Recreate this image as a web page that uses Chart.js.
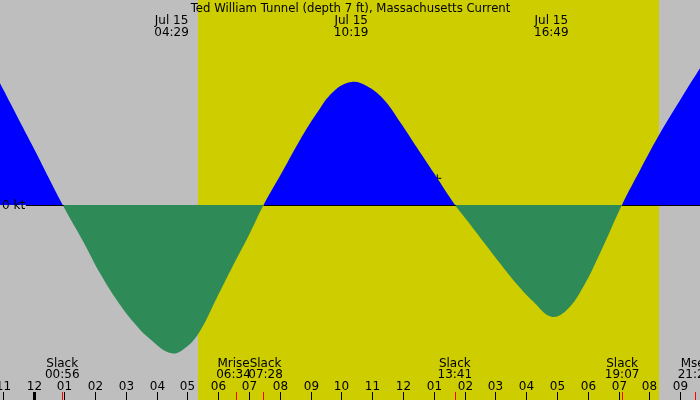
<!DOCTYPE html>
<html>
<head>
<meta charset="utf-8">
<script src="https://cdn.jsdelivr.net/npm/chart.js@4/dist/chart.umd.min.js"></script>
<style>
  html, body { margin: 0; padding: 0; background: #bebebe; }
  #wrap { width: 700px; height: 400px; }
</style>
</head>
<body>
<div id="wrap"><canvas id="c" width="700" height="400"></canvas></div>
<script>
// ---- data ----
const titleText = 'Ted William Tunnel (depth 7 ft), Massachusetts Current';
const dateLabel = 'Jul 15';

// current speed samples: time in hours after midnight Jul 15, speed in knots (+ flood, - ebb)
const flowHours = [-1.088, -0.058, 0.95, 1.617, 2.16, 2.702, 3.241, 3.784, 4.488, 4.976, 5.408,
  5.95, 6.489, 7.031, 7.47, 8.113, 8.655, 9.198, 9.737, 10.32, 10.822, 11.361, 11.904, 12.446,
  13.115, 13.69, 14.07, 14.61, 15.15, 15.69, 16.23, 16.82, 17.317, 17.856, 18.399, 19.11,
  19.70, 20.315, 21.10, 21.646];
const flowKnots = [1.217, 0.607, 0, -0.367, -0.683, -0.95, -1.17, -1.34, -1.483, -1.417, -1.26,
  -0.93, -0.60, -0.28, 0, 0.35, 0.65, 0.917, 1.133, 1.23, 1.19, 1.06, 0.83, 0.577,
  0.267, 0, -0.15, -0.367, -0.583, -0.79, -0.965, -1.117, -1.05, -0.817, -0.483, 0,
  0.35, 0.70, 1.10, 1.367];

// max current times (top labels)
const extremeTimes = ['04:29', '10:19', '16:49'];

// events along the bottom
const eventNames = ['Slack', 'Mrise', 'Slack', 'Slack', 'Slack', 'Mset'];
const eventTimes = ['00:56', '06:34', '07:28', '13:41', '19:07', '21:29'];

// daylight
const sunriseTime = '05:21';
const sunsetTime = '20:19';

// hour axis
const hourValues = [-1, 0, 1, 2, 3, 4, 5, 6, 7, 8, 9, 10, 11, 12, 13, 14, 15, 16, 17, 18, 19, 20, 21];
const hourLabels = ['11', '12', '01', '02', '03', '04', '05', '06', '07', '08', '09', '10', '11',
  '12', '01', '02', '03', '04', '05', '06', '07', '08', '09'];

// current-time marker
const markerTime = 13.115;
const markerKnots = 0.267;

const xMin = -1.088, xMax = 21.646;
const yMin = -1.95, yMax = 2.05;

function toHours(t) { const p = t.split(':'); return +p[0] + (+p[1]) / 60; }

const FONT = '12px "DejaVu Sans"';
const TITLE_FONT = '11.7px "DejaVu Sans"';
const GRAY = '#bebebe', YELLOW = '#cdcd00';

const decor = {
  id: 'decor',
  beforeDraw(chart) {
    const ctx = chart.ctx, xs = chart.scales.x;
    ctx.save();
    ctx.fillStyle = GRAY;
    ctx.fillRect(0, 0, chart.width, chart.height);
    const a = xs.getPixelForValue(toHours(sunriseTime));
    const b = xs.getPixelForValue(toHours(sunsetTime));
    ctx.fillStyle = YELLOW;
    ctx.fillRect(Math.round(a), 0, Math.round(b) - Math.round(a), chart.height);
    ctx.restore();
  },
  afterDatasetsDraw(chart) {
    const ctx = chart.ctx, xs = chart.scales.x, ys = chart.scales.y;
    ctx.save();
    // zero line only where the flow is flood (under blue)
    const y0 = Math.round(ys.getPixelForValue(0));
    ctx.fillStyle = '#000';
    for (let i = 0; i < flowHours.length - 1; i++) {
      if (flowKnots[i] >= 0 && flowKnots[i + 1] >= 0) {
        let x1 = Math.max(26, xs.getPixelForValue(flowHours[i]));
        let x2 = xs.getPixelForValue(flowHours[i + 1]);
        if (x2 > x1) ctx.fillRect(x1, y0, x2 - x1 + 1, 1);
      }
    }
    ctx.font = FONT;
    ctx.fillStyle = '#000';
    ctx.textBaseline = 'alphabetic';
    ctx.textAlign = 'left';
    ctx.fillText('0 kt', 2, 209);

    // title
    ctx.textAlign = 'center';
    ctx.font = TITLE_FONT;
    ctx.fillText(titleText, 350.5, 12);
    ctx.font = FONT;

    // extreme labels
    extremeTimes.forEach(t => {
      const x = xs.getPixelForValue(toHours(t));
      ctx.fillText(dateLabel, x, 24);
      ctx.fillText(t, x, 36);
    });

    // hour ticks & labels
    hourValues.forEach((h, i) => {
      const x = Math.round(xs.getPixelForValue(h));
      ctx.fillStyle = '#000';
      if (h === 0) ctx.fillRect(x - 1, 392, 3, 8);
      else ctx.fillRect(x, 392, 1, 8);
      ctx.fillText(hourLabels[i], x + 0.5, 390);
    });

    // event labels with simple overlap separation
    const ev = eventNames.map((n, i) => {
      const x = xs.getPixelForValue(toHours(eventTimes[i]));
      const w = Math.max(ctx.measureText(n).width, ctx.measureText(eventTimes[i]).width) - 2.5;
      return { n, t: eventTimes[i], x, cx: x, w };
    });
    for (let i = 0; i < ev.length - 1; i++) {
      const need = (ev[i].w + ev[i + 1].w) / 2;
      const d = ev[i + 1].cx - ev[i].cx;
      if (d < need) {
        const s = (need - d) / 2;
        ev[i].cx -= s; ev[i + 1].cx += s;
      }
    }
    ev.forEach(e => {
      ctx.fillStyle = 'red';
      ctx.fillRect(Math.round(e.x), 392, 1, 8);
      ctx.fillStyle = '#000';
      ctx.fillText(e.n, e.cx, 366.5);
      ctx.fillText(e.t, e.cx, 378);
    });
    ctx.restore();
  }
};

new Chart(document.getElementById('c'), {
  type: 'line',
  data: {
    datasets: [{
      data: flowHours.map((h, i) => ({ x: h, y: flowKnots[i] })),
      fill: { target: 'origin', above: '#0000ff', below: '#2e8b57' },
      borderWidth: 0,
      borderColor: 'rgba(0,0,0,0)',
      pointRadius: 0,
      tension: 0.4
    }, {
      data: [{ x: markerTime, y: markerKnots }],
      showLine: false,
      pointStyle: 'cross',
      pointRadius: 4,
      borderColor: '#000',
      borderWidth: 1
    }]
  },
  options: {
    responsive: false,
    animation: false,
    devicePixelRatio: 1,
    layout: { padding: 0, autoPadding: false },
    plugins: { legend: { display: false }, tooltip: { enabled: false }, title: { display: false } },
    scales: {
      x: { type: 'linear', min: xMin, max: xMax, display: false },
      y: { type: 'linear', min: yMin, max: yMax, display: false }
    }
  },
  plugins: [decor]
});
</script>
</body>
</html>
